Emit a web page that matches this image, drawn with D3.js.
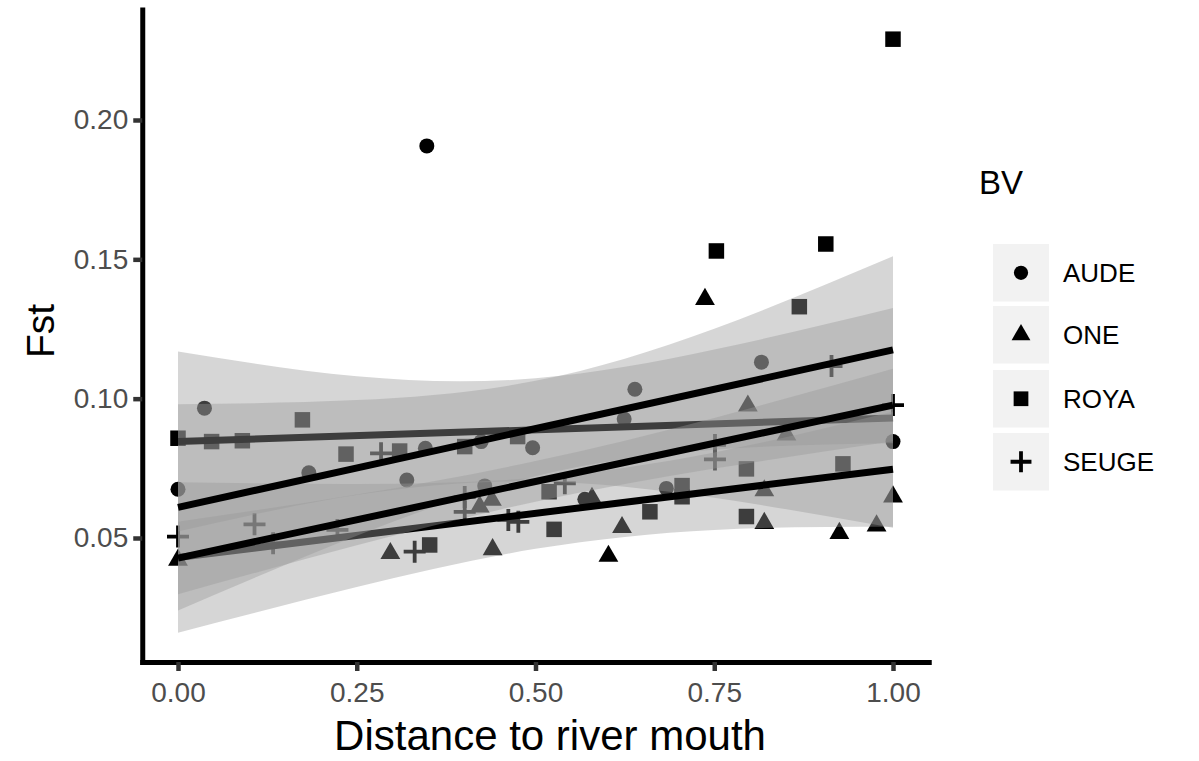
<!DOCTYPE html>
<html lang="en">
<head>
<meta charset="utf-8">
<title>Fst by distance to river mouth</title>
<script src="https://d3js.org/d3.v7.min.js"></script>
<style>
  body { margin: 0; background: #fff; }
  text { font-family: "Liberation Sans", Arial, sans-serif; }
</style>
</head>
<body>
<script>
// Groups (BV) in legend order
const groups = ["AUDE", "ONE", "ROYA", "SEUGE"];

// Points: distance to river mouth and Fst
const audeDist = [0, 0.037, 0.183, 0.320, 0.346, 0.348, 0.424, 0.429, 0.496, 0.569, 0.624, 0.639, 0.683, 0.816, 1.0];
const audeFst  = [0.0675, 0.0966, 0.0734, 0.0708, 0.0822, 0.1907, 0.0846, 0.0687, 0.0824, 0.0639, 0.0927, 0.1034, 0.0678, 0.1131, 0.0846];

const oneDist = [0, 0.297, 0.422, 0.439, 0.440, 0.579, 0.602, 0.621, 0.737, 0.797, 0.820, 0.820, 0.851, 0.925, 0.977, 1.0];
const oneFst  = [0.0421, 0.0445, 0.0612, 0.0636, 0.0459, 0.0643, 0.0435, 0.0538, 0.1357, 0.0974, 0.0670, 0.0553, 0.0870, 0.0517, 0.0544, 0.0648];

const royaDist = [0, 0.047, 0.090, 0.174, 0.235, 0.310, 0.352, 0.401, 0.475, 0.519, 0.526, 0.660, 0.705, 0.705, 0.753, 0.795, 0.795, 0.869, 0.906, 0.930, 1.0];
const royaFst  = [0.0858, 0.0846, 0.0849, 0.0924, 0.0801, 0.0812, 0.0475, 0.0828, 0.0864, 0.0666, 0.0531, 0.0594, 0.0688, 0.0648, 0.1530, 0.0748, 0.0577, 0.1330, 0.1555, 0.0766, 0.2290];

const seugeDist = [0, 0.107, 0.133, 0.223, 0.284, 0.331, 0.401, 0.401, 0.462, 0.476, 0.541, 0.751, 0.751, 0.914, 1.0];
const seugeFst  = [0.0505, 0.0549, 0.0481, 0.0529, 0.0804, 0.0451, 0.0647, 0.0594, 0.0565, 0.0558, 0.0696, 0.0834, 0.0782, 0.1117, 0.0977];

// Fitted lines: Fst at distance 0 and at distance 1
const fitAude  = [0.0846, 0.0931];
const fitOne   = [0.0430, 0.0747];
const fitRoya  = [0.0610, 0.1175];
const fitSeuge = [0.0428, 0.0977];

// Confidence bands read at these distances
const bandDist = [0, 0.25, 0.5, 0.75, 1];
const audeLow   = [0.0523, 0.0654, 0.0703, 0.0644, 0.0537];
const audeHigh  = [0.1169, 0.1080, 0.1073, 0.1176, 0.1325];
const oneLow    = [0.0160, 0.0324, 0.0461, 0.0529, 0.0540];
const oneHigh   = [0.0700, 0.0694, 0.0716, 0.0807, 0.0954];
const royaLow   = [0.0240, 0.0508, 0.0722, 0.0817, 0.0840];
const royaHigh  = [0.0980, 0.0995, 0.1064, 0.1251, 0.1511];
const seugeLow  = [0.0298, 0.0474, 0.0630, 0.0749, 0.0847];
const seugeHigh = [0.0558, 0.0656, 0.0776, 0.0931, 0.1107];

const xTicks = [0, 0.25, 0.5, 0.75, 1];
const yTicks = [0.05, 0.10, 0.15, 0.20];

// put the pieces together per group
const series = [
  {name: "AUDE",  shape: "circle",   dist: audeDist,  fst: audeFst,  fit: fitAude,  low: audeLow,  high: audeHigh},
  {name: "ONE",   shape: "triangle", dist: oneDist,   fst: oneFst,   fit: fitOne,   low: oneLow,   high: oneHigh},
  {name: "ROYA",  shape: "square",   dist: royaDist,  fst: royaFst,  fit: fitRoya,  low: royaLow,  high: royaHigh},
  {name: "SEUGE", shape: "plus",     dist: seugeDist, fst: seugeFst, fit: fitSeuge, low: seugeLow, high: seugeHigh}
];

var width = 1199, height = 761;
var svg = d3.select("body").append("svg")
  .attr("width", width)
  .attr("height", height);

var x = d3.scaleLinear().domain([-0.05, 1.05]).range([142.25, 928.75]);
var y = d3.scaleLinear().domain([0.0055, 0.23965]).range([662, 9.5]);

// marker drawing, sizes close to the ggplot defaults in the picture
function marker(sel, shape, scale) {
  scale = scale || 1;
  if (shape === "circle") {
    sel.append("circle").attr("r", 7.5 * scale).attr("fill", "#000");
  } else if (shape === "square") {
    var s = 15.5 * scale;
    sel.append("rect").attr("x", -s / 2).attr("y", -s / 2).attr("width", s).attr("height", s).attr("fill", "#000");
  } else if (shape === "triangle") {
    sel.append("path").attr("d", d3.symbol().type(d3.symbolTriangle).size(170 * scale * scale)).attr("fill", "#000");
  } else {
    var r = 11 * scale;
    sel.append("path").attr("d", "M" + (-r) + ",0H" + r + "M0," + (-r) + "V" + r)
      .attr("stroke", "#000").attr("stroke-width", 3.8).attr("fill", "none");
  }
}

// Points first (ribbons sit on top of them, like geom_smooth after geom_point)
series.forEach(function(g) {
  g.dist.forEach(function(d, i) {
    var m = svg.append("g").attr("transform", "translate(" + x(d) + "," + y(g.fst[i]) + ")");
    marker(m, g.shape);
  });
});

// Ribbon then line, group after group
var area = d3.area()
  .x(function(d) { return x(d.d); })
  .y0(function(d) { return y(d.lo); })
  .y1(function(d) { return y(d.hi); })
  .curve(d3.curveNatural);
var line = d3.line()
  .x(function(d) { return x(d[0]); })
  .y(function(d) { return y(d[1]); });

series.forEach(function(g) {
  var band = bandDist.map(function(d, i) { return {d: d, lo: g.low[i], hi: g.high[i]}; });
  svg.append("path").datum(band)
    .attr("d", area)
    .attr("fill", "#999999")
    .attr("fill-opacity", 0.4);
  svg.append("path").datum([[0, g.fit[0]], [1, g.fit[1]]])
    .attr("d", line)
    .attr("fill", "none")
    .attr("stroke", "#000")
    .attr("stroke-width", 7);
});

// Axes
var xAxis = svg.append("g")
  .attr("transform", "translate(0,662)")
  .call(d3.axisBottom(x).tickValues(xTicks).tickFormat(d3.format(".2f")).tickSize(9).tickSizeOuter(0).tickPadding(11));
var yAxis = svg.append("g")
  .attr("transform", "translate(142.25,0)")
  .call(d3.axisLeft(y).tickValues(yTicks).tickFormat(d3.format(".2f")).tickSize(9).tickSizeOuter(0).tickPadding(5));

[xAxis, yAxis].forEach(function(a) {
  a.select(".domain").attr("stroke", "#000").attr("stroke-width", 5).attr("stroke-linecap", "square");
  a.selectAll(".tick line").attr("stroke", "#333").attr("stroke-width", 4.5);
  a.selectAll(".tick text").attr("fill", "#4d4d4d").style("font-size", "28px")
    .style("font-family", "'Liberation Sans', Arial, sans-serif");
});

// Axis titles
svg.append("text")
  .attr("x", 550).attr("y", 750)
  .attr("text-anchor", "middle")
  .style("font-size", "42px")
  .text("Distance to river mouth");
svg.append("text")
  .attr("transform", "translate(54,331) rotate(-90)")
  .attr("text-anchor", "middle")
  .style("font-size", "39px")
  .text("Fst");

// Legend
var legend = svg.append("g").attr("transform", "translate(979,0)");
legend.append("text").attr("x", 0).attr("y", 194).style("font-size", "33px").text("BV");
var keyTops = [244, 306, 370, 433];
groups.forEach(function(name, i) {
  var g = series[i];
  var top = keyTops[i];
  legend.append("rect").attr("x", 14).attr("y", top).attr("width", 56).attr("height", 57.5).attr("fill", "#f2f2f2");
  var m = legend.append("g").attr("transform", "translate(42," + (top + 28.75) + ")");
  marker(m, g.shape, 0.95);
  legend.append("text").attr("x", 84).attr("y", top + 28.75).attr("dy", "0.36em")
    .style("font-size", "26px").text(name);
});
</script>
</body>
</html>
